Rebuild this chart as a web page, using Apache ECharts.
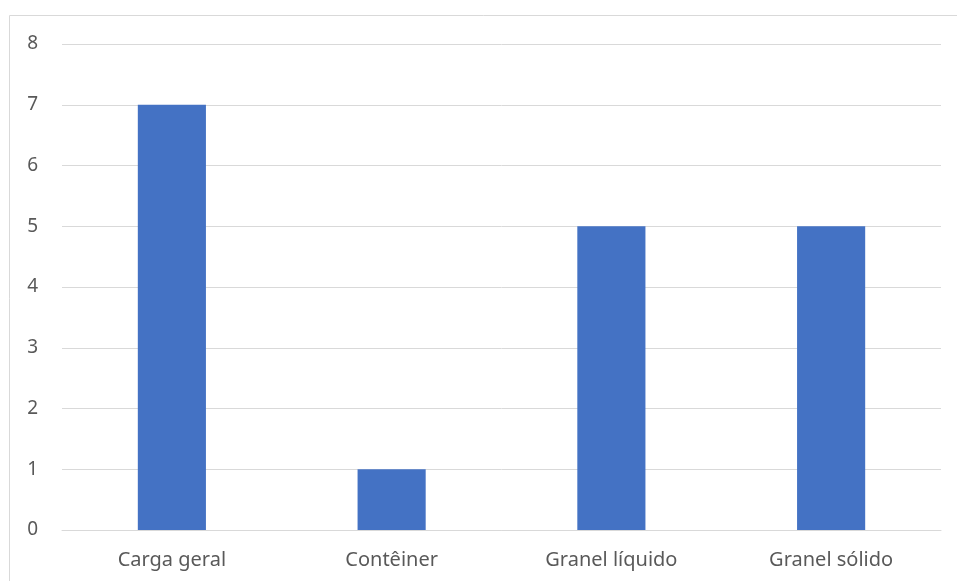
<!DOCTYPE html>
<html>
<head>
<meta charset="utf-8">
<script src="https://cdn.jsdelivr.net/npm/echarts@6/dist/echarts.min.js"></script>
<style>
  html, body { margin: 0; padding: 0; background: #fff; }
  #chart { width: 957px; height: 581px; }
</style>
</head>
<body>
<div id="chart"></div>
<script>
// categorias e valores
const categories = ['Carga geral', 'Contêiner', 'Granel líquido', 'Granel sólido'];
const values = [7, 1, 5, 5];
const yTicks = [0, 8, 1]; // min, max, interval

const myChart = echarts.init(document.getElementById('chart'));
myChart.setOption({
  animation: false,
  textStyle: { fontFamily: 'Noto Sans' },
  graphic: [{
    type: 'rect',
    shape: { x: 9.5, y: 15.5, width: 1000, height: 700 },
    style: { fill: 'none', stroke: '#d9d9d9', lineWidth: 1 },
    silent: true
  }],
  grid: { left: 62, right: 16, top: 44, bottom: 51 },
  xAxis: {
    type: 'category',
    data: categories,
    axisLine: { show: true, lineStyle: { color: '#d9d9d9', width: 1 } },
    axisTick: { show: false },
    axisLabel: { color: '#595959', fontSize: 20, margin: 20 }
  },
  yAxis: {
    type: 'value',
    min: yTicks[0], max: yTicks[1], interval: yTicks[2],
    axisLine: { show: false },
    axisTick: { show: false },
    splitLine: { lineStyle: { color: '#d9d9d9', width: 1 } },
    axisLabel: { color: '#595959', fontSize: 19, margin: 24 }
  },
  series: [{
    type: 'bar',
    data: values,
    barWidth: '31%',
    itemStyle: { color: '#4472c4' }
  }]
});
</script>
</body>
</html>
